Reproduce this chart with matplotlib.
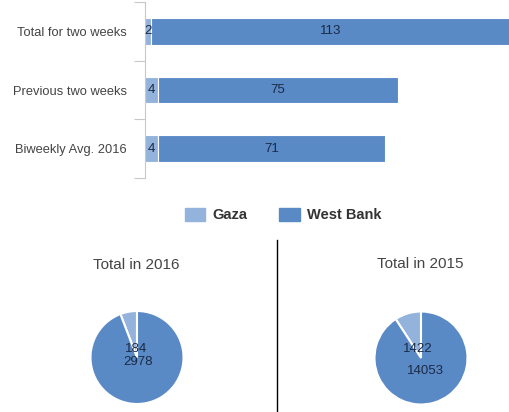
import numpy as np
import matplotlib.pyplot as plt
from matplotlib.patches import Patch
from matplotlib.lines import Line2D

plt.rcParams['font.family'] = ['Liberation Sans', 'DejaVu Sans']

# --- data ---
categories = ["Total for two weeks", "Previous two weeks", "Biweekly Avg. 2016"]
gaza = [2, 4, 4]
west_bank = [113, 75, 71]

pie_titles = ["Total in 2016", "Total in 2015"]
pie_gaza = [184, 1422]
pie_wb = [2978, 14053]

c_gaza = "#93b3dc"
c_wb = "#5a8ac6"
txt_dark = "#1b2a44"

fig = plt.figure(figsize=(5.09, 4.12), dpi=100)

# --- stacked bars ---
ax = fig.add_axes([0.285, 0.568, 0.715, 0.427])
y = np.arange(len(categories))
b1 = ax.barh(y, gaza, height=0.45, color=c_gaza, edgecolor="white", linewidth=0.8)
b2 = ax.barh(y, west_bank, left=gaza, height=0.45, color=c_wb, edgecolor="white", linewidth=0.8)
ax.bar_label(b1, labels=[str(v) for v in gaza], label_type="center", fontsize=9.5, color=txt_dark)
ax.bar_label(b2, labels=[str(v) for v in west_bank], label_type="center", fontsize=9.5, color=txt_dark)
ax.set_xlim(0, 113.8)
ax.set_ylim(len(categories) - 0.5, -0.5)
ax.set_yticks([i - 0.5 for i in range(len(categories) + 1)])
ax.set_yticklabels([])
ax.set_yticks(y, minor=True)
ax.set_yticklabels(categories, minor=True, fontsize=9.3, color="#444444")
ax.tick_params(axis="y", which="major", length=8, color="#c8c8c8", width=0.8)
ax.tick_params(axis="y", which="minor", length=0, pad=13)
ax.set_xticks([])
for s in ["top", "right", "bottom"]:
    ax.spines[s].set_visible(False)
ax.spines["left"].set_color("#c8c8c8")
ax.spines["left"].set_linewidth(0.8)

# --- legend ---
handles = [Patch(color=c_gaza, label="Gaza"), Patch(color=c_wb, label="West Bank")]
fig.legend(handles=handles, loc="center", bbox_to_anchor=(283 / 509, 1 - 215 / 412),
           ncol=2, frameon=False, prop={"weight": "bold", "size": 10.5},
           handlelength=1.4, handleheight=1.0, columnspacing=2.2, handletextpad=0.5,
           labelcolor="#333333")

# --- pies ---
centers = [(137, 357.5), (421, 358)]
radius = 46.5
# label offsets (fraction of radius) for Gaza / West Bank values
gaza_off = [(-0.02, 0.18), (-0.07, 0.2)]
wb_off = [(0.02, -0.1), (0.09, -0.27)]
title_y = [265, 264]
for i in range(2):
    cx, cy = centers[i]
    pax = fig.add_axes([(cx - radius) / 509, 1 - (cy + radius) / 412,
                        2 * radius / 509, 2 * radius / 412])
    pax.pie([pie_gaza[i], pie_wb[i]], colors=[c_gaza, c_wb], startangle=90,
            counterclock=True, wedgeprops={"edgecolor": "white", "linewidth": 1.5})
    pax.set_xlim(-1, 1)
    pax.set_ylim(-1, 1)
    pax.text(*gaza_off[i], str(pie_gaza[i]), ha="center", va="center", fontsize=9.5, color=txt_dark)
    pax.text(*wb_off[i], str(pie_wb[i]), ha="center", va="center", fontsize=9.5, color=txt_dark)
    fig.text((cx - 1) / 509, 1 - title_y[i] / 412, pie_titles[i], ha="center", va="center",
             fontsize=11, color="#444444")

# divider between pies
fig.add_artist(Line2D([277 / 509, 277 / 509], [0, 1 - 240 / 412], color="black", linewidth=1))

fig.savefig("out.png", dpi=100)
